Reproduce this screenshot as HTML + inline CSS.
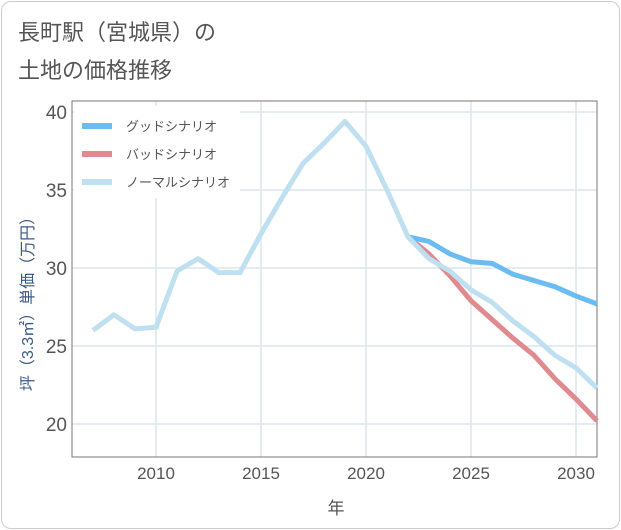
<!DOCTYPE html>
<html><head><meta charset="utf-8">
<style>
body{margin:0;background:#fff;font-family:"Liberation Sans","Noto Sans CJK JP",sans-serif;}
#card{position:absolute;left:1px;top:1px;width:617px;height:526px;border:1px solid #ccc;border-radius:10px;background:#fff;}
</style></head><body>
<div id="card"></div>
<svg id="chart" width="621" height="530" style="position:absolute;left:0;top:0">
<text x="18" y="40" font-size="22" fill="#555">長町駅（宮城県）の</text>
<text x="18" y="78" font-size="22" fill="#555">土地の価格推移</text>
<g id="grid"></g>
<rect x="72" y="101" width="525" height="356" fill="none" stroke="#777" stroke-width="1"/>
<g id="series"></g>
<g id="legend"></g>
<text x="336" y="514" font-size="17" fill="#555" text-anchor="middle">年</text>
<text transform="translate(33,300) rotate(-90)" font-size="16" fill="#3a5a8a" text-anchor="middle">坪（3.3㎡）単価（万円）</text>
</svg>
<script>
const years=[2007,2008,2009,2010,2011,2012,2013,2014,2015,2016,2017,2018,2019,2020,2021,2022,2023,2024,2025,2026,2027,2028,2029,2030,2031];
const normal=[26.0,27.0,26.1,26.2,29.8,30.6,29.7,29.7,32.2,34.5,36.7,38.0,39.4,37.8,35.0,32.0,30.6,29.8,28.6,27.8,26.6,25.6,24.4,23.6,22.3];
const goodYears=[2022,2023,2024,2025,2026,2027,2028,2029,2030,2031];
const good=[32.0,31.7,30.9,30.4,30.3,29.6,29.2,28.8,28.2,27.7];
const bad=[32.0,30.9,29.5,27.9,26.7,25.5,24.4,22.9,21.6,20.2];
const xTicks=[2010,2015,2020,2025,2030];
const yTicks=[20,25,30,35,40];
const legendLabels=["グッドシナリオ","バッドシナリオ","ノーマルシナリオ"];
const NS="http://www.w3.org/2000/svg";
const xs=y=>156+(y-2010)*21;
const ys=v=>424-(v-20)*15.6;
function mk(tag,attrs,parent){const e=document.createElementNS(NS,tag);for(const k in attrs)e.setAttribute(k,attrs[k]);parent.appendChild(e);return e;}
const grid=document.getElementById('grid');
xTicks.forEach(t=>{
 const l=mk('line',{x1:xs(t),x2:xs(t),y1:101,y2:457,stroke:'#dbe6ee','stroke-width':1.5},grid);
 
 
 const tx=mk('text',{x:xs(t),y:479,'font-size':17,fill:'#555','text-anchor':'middle'},grid);tx.textContent=t;
 
 
});
yTicks.forEach(t=>{
 const l=mk('line',{x1:72,x2:597,y1:ys(t),y2:ys(t),stroke:'#dbe6ee','stroke-width':1.5},grid);
 
 
 const tx=mk('text',{x:67,y:ys(t)+7,'font-size':19,fill:'#555','text-anchor':'end'},grid);tx.textContent=t;
 
 
});
const ser=document.getElementById('series');
function line(xv,yv,color,name){
 const p=mk('polyline',{points:xv.map((x,i)=>xs(x)+','+ys(yv[i])).join(' '),fill:'none',stroke:color,'stroke-width':5,'stroke-linejoin':'round'},ser);
 
 
}
line(goodYears,bad,'#e08a90','bad-scenario-line');
line(goodYears,good,'#6bbcf3','good-scenario-line');
line(years,normal,'#bfe0f0','normal-scenario-line');
const lg=document.getElementById('legend');
const bg=mk('rect',{x:74,y:106,width:166,height:92,fill:'#fff'},lg);


const cols=['#6bbcf3','#e08a90','#bfe0f0'];
legendLabels.forEach((s,i)=>{
 const y=126+i*28;
 const l=mk('line',{x1:82,x2:112,y1:y,y2:y,stroke:cols[i],'stroke-width':6},lg);
 
 
 const t=mk('text',{x:126,y:y+5,'font-size':13,fill:'#555'},lg);t.textContent=s;
 
 
});
</script>
</body></html>
